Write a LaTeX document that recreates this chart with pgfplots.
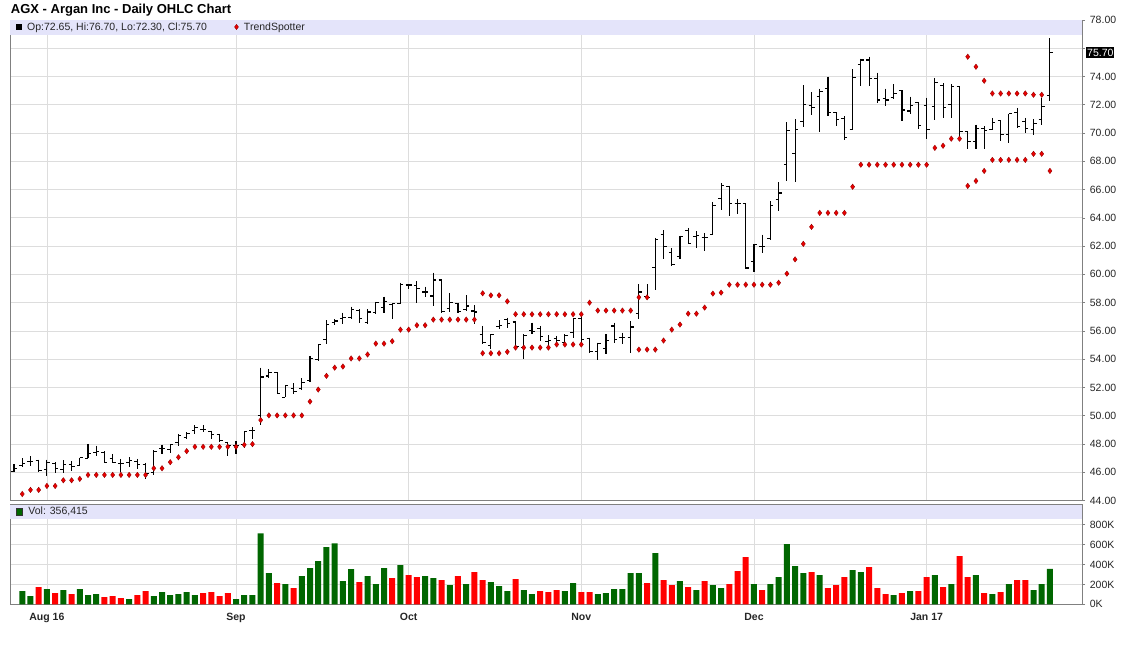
\documentclass[border=0pt]{standalone}
\usepackage{fontspec}
\setmainfont{Liberation Sans}
\usepackage{pgfplots}
\pgfplotsset{compat=1.18}
\usepackage{pgfplotstable}

\definecolor{gridc}{RGB}{221,221,221}
\definecolor{framec}{RGB}{128,128,128}
\definecolor{bandc}{RGB}{228,228,250}
\definecolor{volgreen}{RGB}{0,102,0}
\definecolor{volred}{RGB}{255,0,0}
\definecolor{dotred}{RGB}{235,0,0}
\definecolor{dotedge}{RGB}{150,0,0}
\newcommand\fs[1]{\fontsize{#1}{#1}\selectfont}

\pgfdeclareplotmark{otick}{\pgfpathmoveto{\pgfqpoint{-3pt}{0pt}}\pgfpathlineto{\pgfqpoint{0pt}{0pt}}\pgfusepathqstroke}
\pgfdeclareplotmark{ctick}{\pgfpathmoveto{\pgfqpoint{0pt}{0pt}}\pgfpathlineto{\pgfqpoint{3pt}{0pt}}\pgfusepathqstroke}

\pgfplotstableread{
i o h l c
-4 46.05 46.59 46.05 46.28
-3 46.45 46.99 46.40 46.64
-2 46.78 47.13 46.47 46.78
-1 46.85 46.90 46.05 46.12
0 46.19 46.90 45.76 46.71
1 46.64 46.71 45.95 46.24
2 46.20 46.85 45.95 46.54
3 46.54 46.76 46.09 46.40
4 46.47 47.04 46.42 47.02
5 46.99 48.00 46.99 47.30
6 47.42 47.89 47.18 47.49
7 47.42 47.47 46.66 46.71
8 46.99 47.30 46.66 46.66
9 46.59 46.95 46.05 46.59
10 46.71 47.06 46.35 46.83
11 46.78 46.95 46.24 46.54
12 46.52 46.66 45.53 45.88
13 46.00 47.54 45.81 47.47
14 47.65 47.96 47.30 47.65
15 47.58 48.00 47.37 47.94
16 48.08 48.72 47.89 48.60
17 48.48 48.84 48.32 48.72
18 48.95 49.31 48.72 49.19
19 49.03 49.36 48.84 49.03
20 48.90 48.95 48.36 48.65
21 48.67 48.72 48.17 48.25
22 48.13 48.17 47.18 47.89
23 47.89 48.22 47.30 47.89
24 47.96 48.90 47.73 48.88
25 48.95 49.19 48.32 48.95
26 50.00 53.40 49.36 52.74
27 52.81 53.28 52.67 53.04
28 53.04 53.09 51.56 51.56
29 51.32 52.19 51.32 52.15
30 51.91 52.31 51.56 51.72
31 51.90 52.64 51.84 52.35
32 52.47 54.24 52.40 54.05
33 54.00 55.06 53.88 55.06
34 55.40 56.75 55.06 56.47
35 56.59 56.82 56.40 56.70
36 56.87 57.29 56.47 56.94
37 56.94 57.72 56.82 57.53
38 57.45 57.53 56.54 56.87
39 56.59 57.53 56.47 57.34
40 57.29 58.05 57.18 58.00
41 57.65 58.42 57.29 58.05
42 57.88 57.93 56.82 57.93
43 57.93 59.41 57.93 59.30
44 59.25 59.30 58.94 59.25
45 59.22 59.53 58.00 58.99
46 58.75 59.13 58.42 58.75
47 58.47 60.12 57.76 59.60
48 59.60 59.65 57.29 57.36
49 57.58 58.70 57.34 58.00
50 57.95 58.00 57.29 57.36
51 57.53 58.52 57.41 57.76
52 57.41 57.81 56.47 57.34
53 55.76 56.35 55.06 55.18
54 54.99 55.76 54.70 55.76
55 56.30 56.75 56.12 56.40
56 56.82 56.94 56.23 56.54
57 56.63 56.70 54.82 54.89
58 54.82 55.76 54.00 55.70
59 56.00 56.59 55.76 55.93
60 56.19 56.35 55.29 55.60
61 55.22 55.70 54.94 55.29
62 55.46 55.65 55.06 55.29
63 55.18 55.76 55.13 55.65
64 55.88 56.87 55.53 56.87
65 56.87 57.11 54.94 55.41
66 55.48 55.53 54.42 54.52
67 54.52 55.18 53.95 55.13
68 54.75 55.76 54.35 55.29
69 56.35 56.59 55.18 55.41
70 55.53 55.88 55.06 55.53
71 55.53 56.70 54.47 56.28
72 57.25 59.29 56.87 58.75
73 58.42 59.29 58.24 58.35
74 60.47 62.59 58.89 62.47
75 62.82 63.11 61.11 62.00
76 61.53 61.88 60.59 60.70
77 61.25 62.75 61.11 62.70
78 63.13 63.29 62.12 62.19
79 62.70 63.06 61.84 62.75
80 62.64 62.94 61.65 62.64
81 62.82 65.13 62.82 64.87
82 65.34 66.47 64.59 66.28
83 66.24 66.28 64.12 65.01
84 65.01 65.34 64.24 65.01
85 65.01 65.01 60.35 60.45
86 60.92 62.12 60.16 62.12
87 62.00 62.82 61.53 62.00
88 62.52 65.18 62.42 64.87
89 65.29 66.52 64.47 65.76
90 67.76 70.78 66.60 70.19
91 68.56 70.97 66.53 70.26
92 70.83 73.38 70.45 72.00
93 71.96 72.90 71.25 71.80
94 72.58 73.14 70.07 72.95
95 73.14 73.99 71.20 71.44
96 71.44 71.49 70.50 70.97
97 71.02 71.20 69.50 69.67
98 70.26 74.51 70.21 73.92
99 74.87 75.27 73.33 75.17
100 75.17 75.41 73.33 73.85
101 73.85 74.28 72.15 72.34
102 72.43 73.14 71.91 72.34
103 72.50 73.45 72.39 72.81
104 72.98 73.02 70.85 71.63
105 71.56 72.58 71.33 71.96
106 72.15 72.20 70.26 70.54
107 71.95 72.50 69.59 70.25
108 71.86 73.91 70.91 73.56
109 73.37 73.51 71.08 71.79
110 72.00 73.44 71.08 73.32
111 73.28 73.28 69.54 70.11
112 70.11 70.13 68.88 69.40
113 69.40 70.60 68.88 70.35
114 70.35 70.49 68.88 70.20
115 70.25 71.08 70.25 70.72
116 70.89 70.91 69.43 69.90
117 69.90 71.36 69.31 71.36
118 71.43 71.79 70.37 70.44
119 70.84 71.08 70.02 70.30
120 70.25 70.96 69.87 70.68
121 70.96 72.50 70.60 71.86
122 72.65 76.70 72.30 75.70
}\ohlc

\pgfplotstableread{
i p
-3 44.46
-2 44.75
-1 44.75
0 45.03
1 45.03
2 45.43
3 45.43
4 45.53
5 45.81
6 45.81
7 45.81
8 45.81
9 45.81
10 45.81
11 45.81
12 45.81
13 46.28
14 46.28
15 46.71
16 47.06
17 47.49
18 47.80
19 47.80
20 47.80
21 47.80
22 47.80
23 47.80
24 47.94
25 47.99
26 49.69
27 50.02
28 50.02
29 50.02
30 50.02
31 50.02
32 51.00
33 51.85
34 52.82
35 53.40
36 53.48
37 54.05
38 54.05
39 54.33
40 55.10
41 55.10
42 55.27
43 56.09
44 56.09
45 56.40
46 56.40
47 56.80
48 56.80
49 56.80
50 56.80
51 56.80
52 56.80
53 58.66
54 58.52
55 58.52
56 58.09
57 57.18
58 57.18
59 57.18
60 57.18
61 57.18
62 57.18
63 57.18
64 57.18
65 57.18
66 58.00
67 57.44
68 57.44
69 57.44
70 57.44
71 57.44
72 58.38
73 58.38
53 54.42
54 54.42
55 54.42
56 54.52
57 54.82
58 54.82
59 54.82
60 54.82
61 54.82
62 55.04
63 55.04
64 55.04
65 55.04
72 54.68
73 54.68
74 54.68
75 55.32
76 56.09
77 56.45
78 57.22
79 57.22
80 57.65
81 58.64
82 58.71
83 59.27
84 59.27
85 59.27
86 59.27
87 59.27
88 59.27
89 59.41
90 60.05
91 61.06
92 62.16
93 63.36
94 64.35
95 64.35
96 64.35
97 64.35
98 66.20
99 67.76
100 67.76
101 67.76
102 67.76
103 67.76
104 67.76
105 67.76
106 67.76
107 67.76
108 68.95
109 69.10
110 69.60
111 69.60
112 66.26
113 66.61
114 67.32
115 68.10
116 68.10
117 68.10
118 68.10
119 68.10
120 68.53
121 68.53
122 67.32
112 75.40
113 74.69
114 73.70
115 72.80
116 72.80
117 72.80
118 72.80
119 72.80
120 72.71
121 72.71
}\trend

\pgfplotstableread{
i v
-3 133
-2 83
0 153
2 143
4 153
5 93
6 103
10 53
13 83
14 123
15 93
16 103
17 123
18 93
23 53
24 93
25 93
26 713
27 313
29 203
31 283
32 363
33 433
34 573
35 613
36 233
37 353
39 283
40 203
41 363
43 393
46 283
47 263
49 193
51 203
54 223
55 183
56 133
58 143
59 103
63 133
64 213
67 103
68 113
69 153
70 153
71 313
72 313
74 513
77 233
79 143
81 193
82 163
86 203
88 203
89 273
90 603
91 383
92 313
94 293
98 343
99 323
103 93
105 133
108 293
110 203
113 293
115 103
117 203
120 143
121 203
122 356
}\volup

\pgfplotstableread{
i v
-1 173
1 113
3 103
7 73
8 83
9 63
11 93
12 133
19 113
20 123
21 83
22 113
28 213
30 163
38 223
42 263
44 293
45 273
48 243
50 283
52 323
53 243
57 253
60 133
61 123
62 143
65 123
66 123
73 213
75 243
76 193
78 173
80 233
83 203
84 333
85 473
87 143
93 323
95 163
96 193
97 273
100 373
101 163
102 103
104 113
106 133
107 273
109 173
111 483
112 273
114 113
116 123
118 243
119 243
}\voldown

\pgfplotsset{
  chartbase/.style={
    scale only axis, width=1071.5pt,
    xmin=-4.43, xmax=125.9,
    axis line style={framec, line width=0.8pt},
    xtick={0,23,44,65,86,107},
    grid=major, major grid style={gridc, line width=0.8pt},
    ytick pos=right, yticklabel pos=right,
    tick align=outside, major tick length=3pt,
    ytick style={framec, line width=0.6pt},
    xtick style={draw=none},
    yticklabel style={anchor=west, inner sep=0pt, xshift=4.7pt, font=\fs{10.5}, text=black!85},
    clip mode=individual,
  }
}

\begin{document}
\begin{tikzpicture}[x=1pt,y=1pt]
\path[use as bounding box] (0,0) rectangle (1125,-645);
\node[anchor=base west, font=\bfseries\fs{13}, inner sep=0pt] at (10.7,-13.3) {AGX - Argan Inc - Daily OHLC Chart};

\begin{axis}[chartbase,
  at={(10.5pt,-20pt)}, anchor=north west, height=480.5pt,
  ymin=44, ymax=78,
  ytick={44,46,...,78},
  yticklabels={44.00,46.00,48.00,50.00,52.00,54.00,56.00,58.00,60.00,62.00,64.00,66.00,68.00,70.00,72.00,74.00,,78.00},
  xticklabels={},
  legend style={at={(rel axis cs:0,1)}, anchor=north west, xshift=5pt, yshift=-1.2pt,
    draw=none, fill=none, font=\fs{10.5}, text=black!85, legend columns=2,
    inner xsep=0pt, inner ysep=0pt, row sep=0pt,
    /tikz/every even column/.append style={column sep=24pt},
    nodes={inner xsep=2.5pt, inner ysep=1pt}},
  legend cell align=left,
]
\fill[bandc] (rel axis cs:0,1) rectangle (rel axis cs:1,{1-14.5/480.5});
\addplot[draw=none, mark=none,
  legend image code/.code={\fill[black] (0pt,-3.3pt) rectangle (6.5pt,3.3pt); \path[draw=none,fill=none] (0pt,0pt) -- (9pt,0pt);},
  error bars/.cd, y dir=minus, y explicit, error mark=none,
  error bar style={draw=black, line width=1.1pt}]
  table[x=i, y=h, y error minus expr=\thisrow{h}-\thisrow{l}] {\ohlc};
\addlegendentry{Op:72.65, Hi:76.70, Lo:72.30, Cl:75.70}
\addplot[forget plot, only marks, mark=otick, mark options={black, line width=1.1pt}]
  table[x=i, y=o] {\ohlc};
\addplot[forget plot, only marks, mark=ctick, mark options={black, line width=1.1pt}]
  table[x=i, y=c] {\ohlc};
\addplot[only marks, mark=diamond*, mark size=2.7pt,
  mark options={fill=dotred, draw=dotedge, line width=0.4pt},
  legend image code/.code={\path[draw=none] plot[only marks, mark=diamond*, mark size=2.6pt, mark options={fill=dotred, draw=dotedge, line width=0.4pt}] coordinates {(3pt,0pt)}; \path[draw=none,fill=none] (0pt,0pt) -- (8pt,0pt);}]
  table[x=i, y=p] {\trend};
\addlegendentry{TrendSpotter}
\node[fill=black, text=white, anchor=west, inner xsep=1pt, inner ysep=1.5pt, font=\fs{10.5}, xshift=4pt]
  at (axis cs:125.9,75.7) {75.70};
\end{axis}

\begin{axis}[chartbase,
  at={(10.5pt,-504.7pt)}, anchor=north west, height=99.6pt,
  ymin=0, ymax=1000,
  ytick={0,200,400,600,800},
  yticklabels={0K,200K,400K,600K,800K},
  xticklabels={Aug 16,Sep,Oct,Nov,Dec,Jan 17},
  xticklabel style={anchor=base, inner sep=0pt, yshift=-13.2pt, font=\bfseries\fs{10.5}, text=black!85},
  legend style={at={(rel axis cs:0,1)}, anchor=north west, xshift=5pt, yshift=-1.2pt,
    draw=none, fill=none, font=\fs{10.5}, text=black!85,
    inner xsep=0pt, inner ysep=0pt, nodes={inner xsep=2.5pt, inner ysep=1pt}},
]
\fill[bandc] (rel axis cs:0,1) rectangle (rel axis cs:1,{1-14.3/99.6});
\addplot[ybar, bar width=6pt, bar shift=0pt, fill=volgreen, draw=none,
  legend image code/.code={\filldraw[fill=volgreen, draw=black!80, line width=0.5pt] (0pt,-3.3pt) rectangle (6.5pt,3.3pt); \path[draw=none,fill=none] (0pt,0pt) -- (10pt,0pt);}]
  table[x=i, y=v] {\volup};
\addlegendentry{Vol: 356,415}
\addplot[forget plot, ybar, bar width=6pt, bar shift=0pt, fill=volred, draw=none]
  table[x=i, y=v] {\voldown};
\end{axis}
\end{tikzpicture}
\end{document}
